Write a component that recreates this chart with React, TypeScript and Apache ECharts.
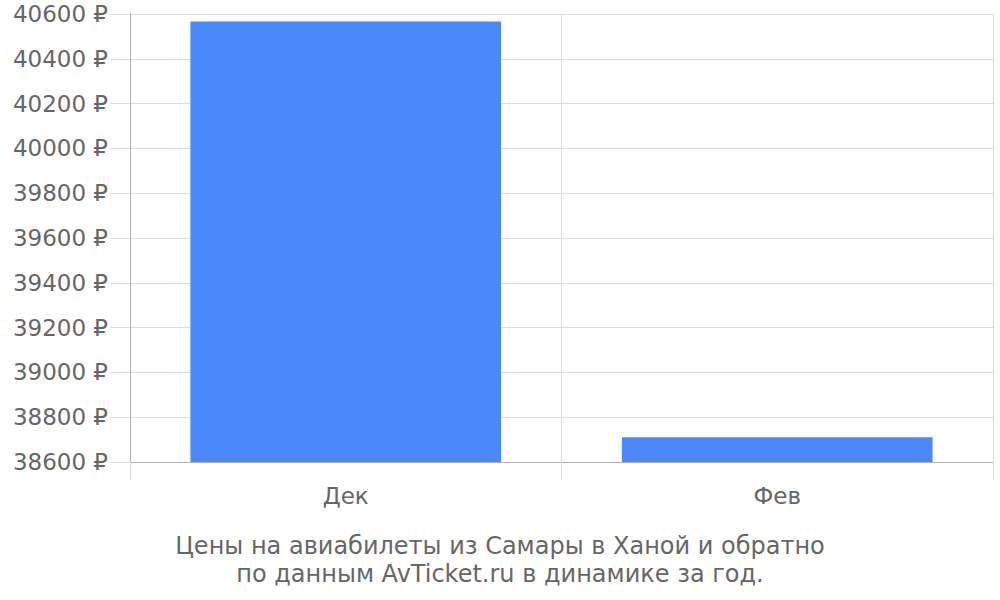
import React, { useEffect, useRef } from "react";
import * as echarts from "echarts";

const categories = ["Дек", "Фев"];
const prices = [40567, 38710];
const yMin = 38600;
const yMax = 40600;
const yStep = 200;
const titleLines = [
  "Цены на авиабилеты из Самары в Ханой и обратно",
  "по данным AvTicket.ru в динамике за год.",
];

export default function App() {
  const ref = useRef<HTMLDivElement>(null);
  useEffect(() => {
    if (!ref.current) return;
    const chart = echarts.init(ref.current, null, { renderer: "svg" });
    const font = "DejaVu Sans";
    chart.setOption({
      animation: false,
      textStyle: { fontFamily: font },
      title: {
        text: titleLines.join("\n"),
        left: "center",
        top: 527,
        textStyle: {
          fontFamily: font,
          fontSize: 24,
          fontWeight: "normal",
          color: "#666666",
          lineHeight: 28,
        },
      },
      grid: { left: 130, right: 7, top: 14, bottom: 138 },
      xAxis: {
        type: "category",
        data: categories,
        boundaryGap: true,
        axisLine: { show: true, lineStyle: { color: "#b0b0b0", width: 1 } },
        axisTick: { show: true, length: 18, lineStyle: { color: "#dddddd" } },
        splitLine: { show: true, lineStyle: { color: "#dddddd", width: 1 } },
        axisLabel: { fontSize: 23, color: "#666666", margin: 22, fontFamily: font },
      },
      yAxis: {
        type: "value",
        min: yMin,
        max: yMax,
        interval: yStep,
        axisLine: { show: true, lineStyle: { color: "#b0b0b0", width: 1 } },
        axisTick: { show: true, length: 20, lineStyle: { color: "#dddddd" } },
        splitLine: { show: true, lineStyle: { color: "#dddddd", width: 1 } },
        axisLabel: {
          fontSize: 23,
          color: "#666666",
          margin: 22,
          fontFamily: font,
          formatter: (v: number) => `${v} ₽`,
        },
      },
      series: [
        {
          type: "bar",
          data: prices,
          barCategoryGap: "28%",
          itemStyle: { color: "#4b88f9" },
        },
      ],
    });
    return () => chart.dispose();
  }, []);
  return <div ref={ref} style={{ width: 1000, height: 600, position: "absolute", left: 0, top: 0 }} />;
}
